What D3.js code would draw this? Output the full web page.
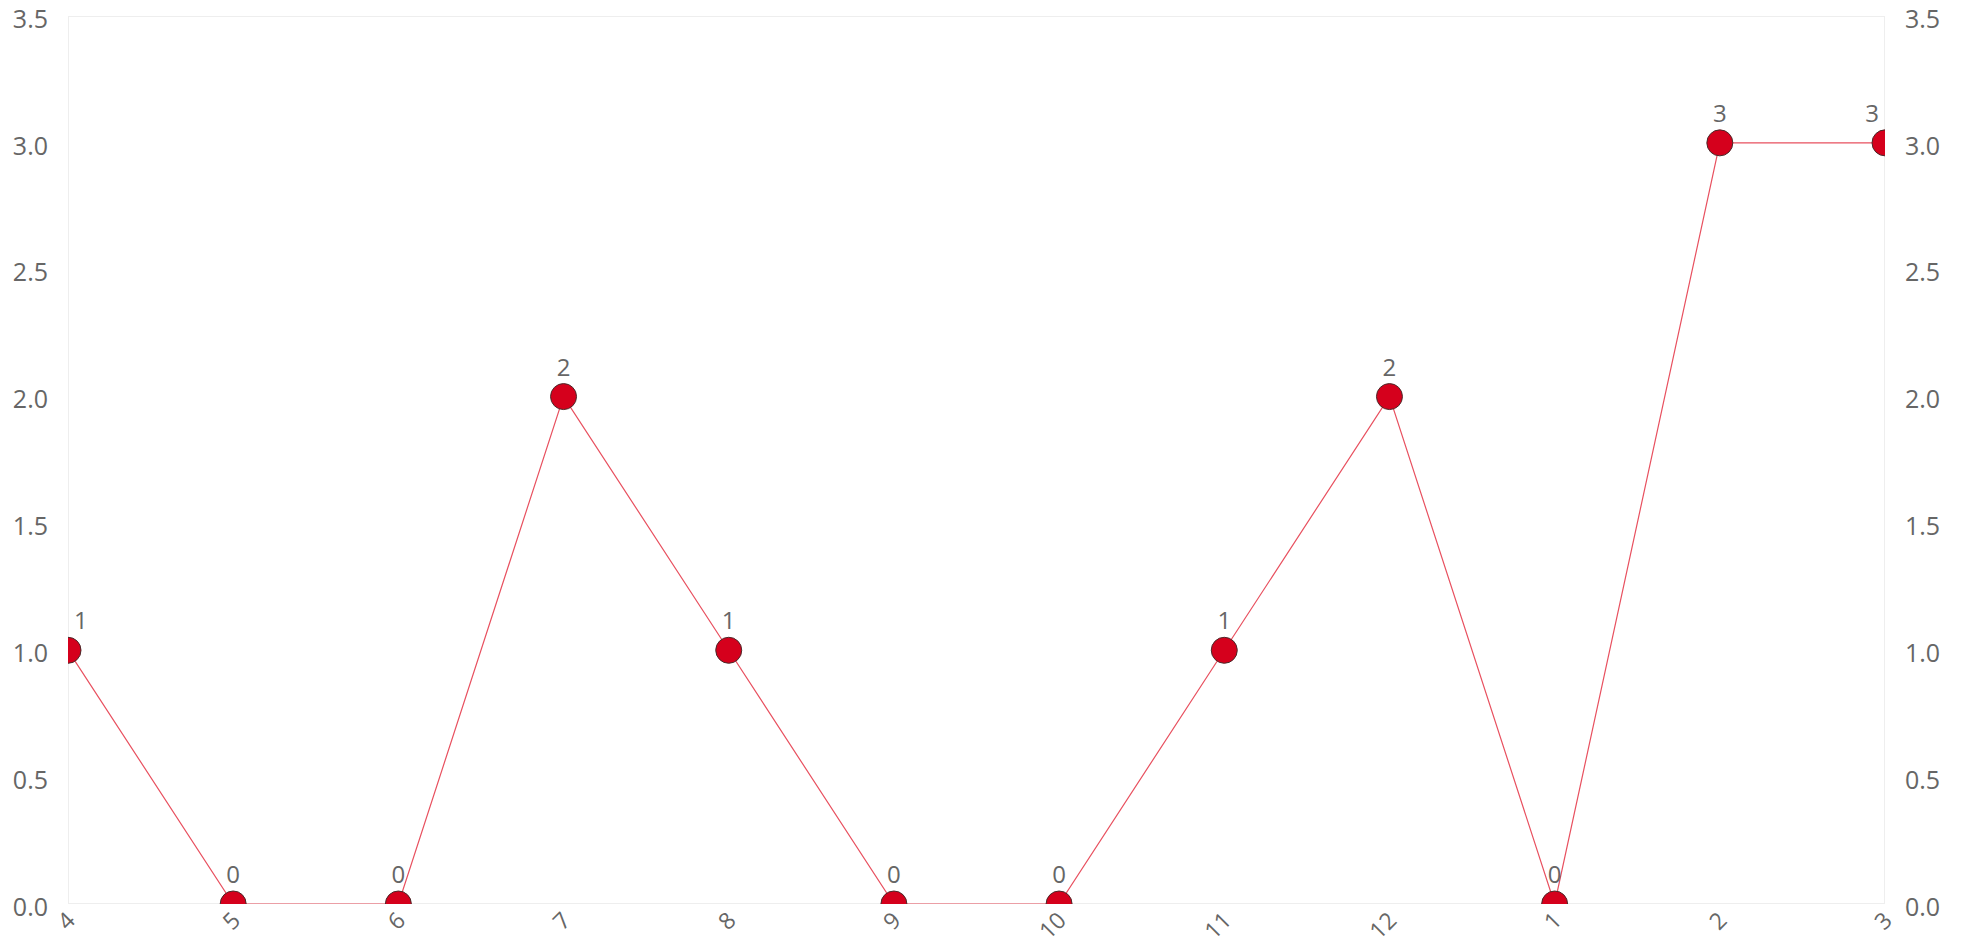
<!DOCTYPE html>
<html><head><meta charset="utf-8">
<script src="https://cdn.jsdelivr.net/npm/d3@7"></script>
<style>body{margin:0;background:#fff}svg{display:block}text{font-family:"Open Sans","Noto Sans",sans-serif;fill:#666}</style>
</head><body><svg id="c" width="1966" height="946"></svg>
<script>
const categories = ["4","5","6","7","8","9","10","11","12","1","2","3"];
const values = [1,0,0,2,1,0,0,1,2,0,3,3];
const yTicks = [0,0.5,1,1.5,2,2.5,3,3.5];

const W=1966,H=946, L=68, R=1885, T=16, B=904;
const svg=d3.select("#c");
const x=d3.scalePoint().domain(categories).range([L,R]);
const y=d3.scaleLinear().domain([0,3.5]).range([B,T]);

svg.append("defs").append("clipPath").attr("id","clip").append("rect")
  .attr("x",L).attr("y",T).attr("width",R-L).attr("height",B-T);

svg.append("rect").attr("x",L+0.5).attr("y",T+0.5).attr("width",R-L-1).attr("height",B-T-1)
  .attr("fill","none").attr("stroke","#eeeeee").attr("stroke-width",1);

const fs=25;
const la=svg.append("g").attr("transform",`translate(${L},0)`)
  .call(d3.axisLeft(y).tickValues(yTicks).tickFormat(d3.format(".1f")).tickSize(0).tickPadding(20));
la.select(".domain").remove();
la.selectAll("text").attr("font-size",fs).attr("dy","0.45em").style("fill","#666");
const ra=svg.append("g").attr("transform",`translate(${R},0)`)
  .call(d3.axisRight(y).tickValues(yTicks).tickFormat(d3.format(".1f")).tickSize(0).tickPadding(20));
ra.select(".domain").remove();
ra.selectAll("text").attr("font-size",fs).attr("dy","0.45em").style("fill","#666");

const xa=svg.append("g").attr("transform",`translate(0,${B})`)
  .call(d3.axisBottom(x).tickSize(0).tickPadding(0));
xa.select(".domain").remove();
xa.selectAll("text").attr("font-size",23).style("fill","#666")
  .attr("text-anchor","end").attr("dy",0).attr("y",0)
  .attr("transform","translate(8,18) rotate(-45)");

const g=svg.append("g").attr("clip-path","url(#clip)");
g.append("path").datum(values)
  .attr("d",d3.line().x((d,i)=>x(categories[i])).y(d=>y(d)))
  .attr("fill","none").attr("stroke","#e8505f").attr("stroke-width",1.2);
g.selectAll("circle").data(values).join("circle")
  .attr("cx",(d,i)=>x(categories[i])).attr("cy",d=>y(d)).attr("r",13)
  .attr("fill","#d5001c").attr("stroke","#4a2a2a").attr("stroke-width",1);

svg.selectAll(".lbl").data(values).join("text").attr("class","lbl")
  .attr("y",d=>y(d)-21)
  .attr("text-anchor","middle").attr("font-size",24).style("fill","#666")
  .text(d=>d)
  .attr("x",function(d,i){
    const w=this.getComputedTextLength(), cx=x(categories[i]), pad=6;
    return Math.max(L+pad+w/2, Math.min(R-pad-w/2, cx));
  });
</script></body></html>
